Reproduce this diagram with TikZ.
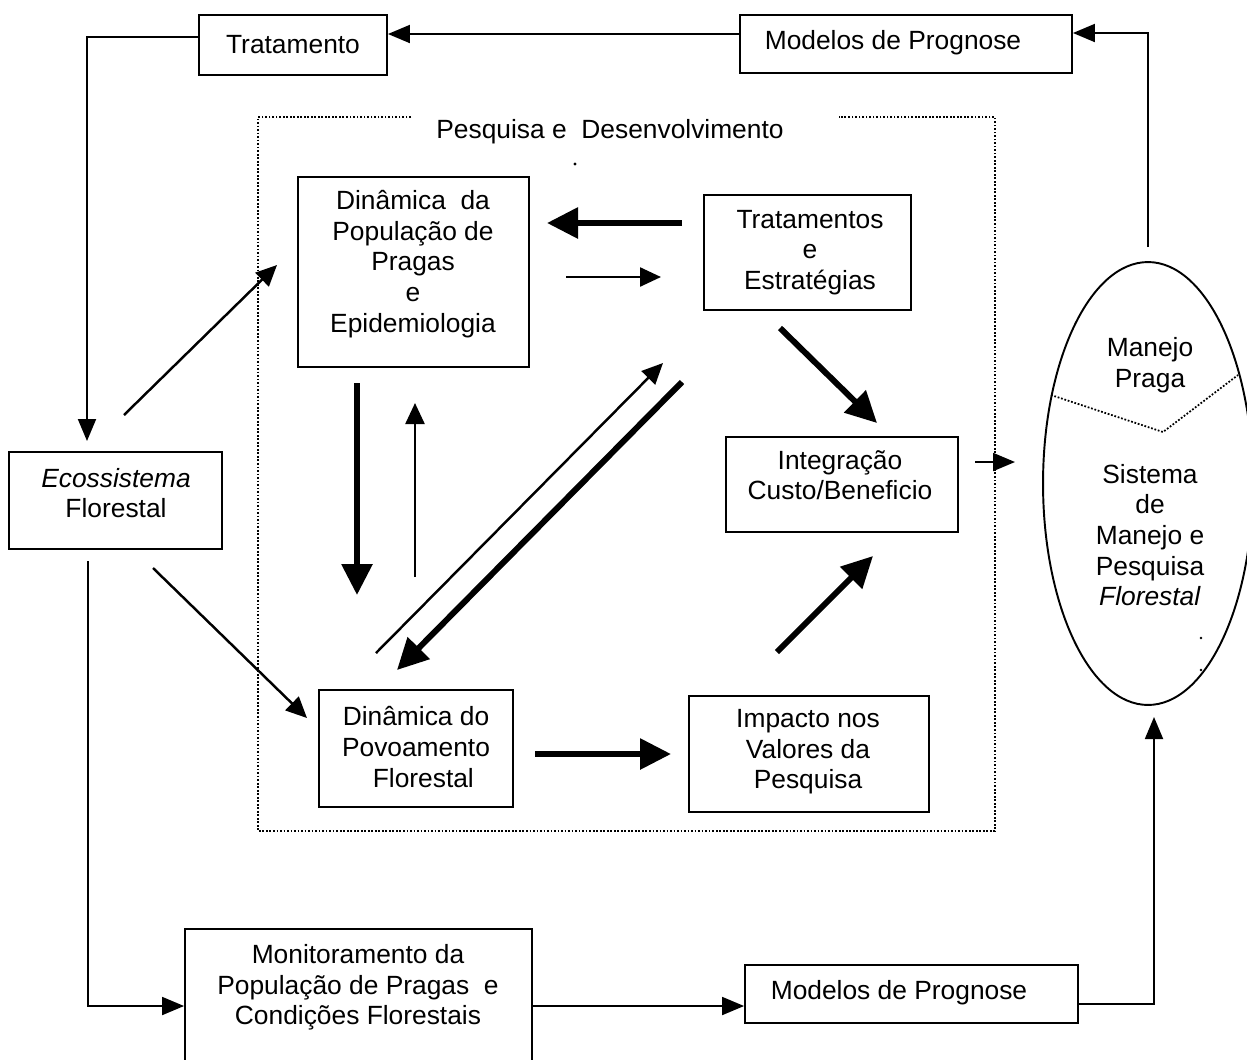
\documentclass[tikz,border=0pt]{standalone}
\usepackage{fontspec}
\setmainfont{Liberation Sans}
\usetikzlibrary{arrows.meta,shapes.geometric}
\begin{document}
\begin{tikzpicture}[x=0.02cm,y=-0.02cm,
  every node/.style={font=\fontsize{15}{17.4}\selectfont},
  box/.style={draw, line width=1.1pt, rectangle, inner sep=0pt},
  txt/.style={align=center, inner sep=0pt},
  thinarr/.style={line width=1.4pt, -{Triangle[length=0.42cm,width=0.38cm]}},
  thickarr/.style={line width=3.4pt, -{Triangle[length=0.62cm,width=0.6cm]}},
  looparr/.style={line width=1.1pt, -{Triangle[length=0.44cm,width=0.36cm]}},
  loopline/.style={line width=1.1pt},
  dotline/.style={line width=1pt, dash pattern=on 1pt off 1pt},
]
\useasboundingbox (0,0) rectangle (1247,1059);

% outer boxes
\node[box, minimum width=3.76cm, minimum height=1.2cm] (trat) at (293,45) {Tratamento};
\node[box, minimum width=6.64cm, minimum height=1.16cm] (modtop) at (906,44) {};
\node[txt] (modtopt) at (893,43) {Modelos de Prognose};
\node[box, minimum width=4.26cm, minimum height=1.94cm] (eco) at (115.5,500.5) {};
\node[txt] (ecot) at (116,493) {\textit{Ecossistema}\\Florestal};
\node[box, minimum width=6.94cm, minimum height=2.72cm] (monit) at (358.5,997) {};
\node[txt] (monitt) at (358,987.5) {Monitoramento da\\População de Pragas\ \ e\\Condições Florestais};
\node[box, minimum width=6.66cm, minimum height=1.16cm] (modbot) at (911.5,994) {};
\node[txt] (modbott) at (899,993) {Modelos de Prognose};
\node[draw, ellipse, line width=1.1pt, minimum width=4.2cm, minimum height=8.86cm, inner sep=0pt] (elip) at (1148,483.5) {};
\node[txt] (elipa) at (1150,365) {Manejo\\Praga};
\node[txt] (elipb) at (1150,535) {Sistema\\de\\Manejo e\\Pesquisa\\\textit{Florestal}};
\draw[dotline] (1051,395) -- (1163,432) -- (1238,375);

% research frame
\draw[dotline] (411,117) -- (258,117) -- (258,831) -- (995,831) -- (995,117) -- (839,117);
\node[txt] (title) at (610,132) {Pesquisa e\ \ Desenvolvimento};

% inner boxes
\node[box, minimum width=4.62cm, minimum height=3.8cm] (dinpop) at (413.5,272) {};
\node[txt] (dinpopt) at (413,264) {Dinâmica\ \ da\\População de\\Pragas\\e\\Epidemiologia};
\node[box, minimum width=4.14cm, minimum height=2.3cm] (trats) at (807.5,252.5) {};
\node[txt] (tratst) at (810,252.5) {Tratamentos\\e\\Estratégias};
\node[box, minimum width=4.64cm, minimum height=1.9cm] (integ) at (842,484.5) {};
\node[txt] (integt) at (840,475) {Integração\\Custo/Beneficio};
\node[box, minimum width=3.88cm, minimum height=2.34cm] (dindo) at (416,748.5) {};
\node[txt] (dindot) at (416,747) {Dinâmica do\\Povoamento\\\ \ Florestal};
\node[box, minimum width=4.8cm, minimum height=2.32cm] (impacto) at (809,754) {};
\node[txt] (impactot) at (808,752) {Impacto nos\\Valores da\\Pesquisa};

% free connector ends
\coordinate (ecoin) at (87,441);
\coordinate (ecoout) at (88,561);
\coordinate (elipin) at (1154,717);
\coordinate (elipout) at (1148,247);
\coordinate (a1) at (682,223);  \coordinate (a2) at (547,223);
\coordinate (b1) at (566,277);  \coordinate (b2) at (661,277);
\coordinate (c1) at (357,383);  \coordinate (c2) at (357,595);
\coordinate (d1) at (415,577);  \coordinate (d2) at (415,403);
\coordinate (e1) at (376,653);  \coordinate (e2) at (663,363);
\coordinate (f1) at (682,382);  \coordinate (f2) at (397,670);
\coordinate (g1) at (780,328);  \coordinate (g2) at (877,423);
\coordinate (h1) at (777,652);  \coordinate (h2) at (873,556);
\coordinate (i1) at (535,754);  \coordinate (i2) at (671,754);
\coordinate (j1) at (124,415);  \coordinate (j2) at (277,265);
\coordinate (k1) at (153,568);  \coordinate (k2) at (307,718);
\coordinate (m1) at (975,462);  \coordinate (m2) at (1015,462);

% outer loop
\draw[looparr] (modtop.west |- 0,34) -- (trat.east |- 0,34);
\draw[looparr] (trat.west |- 0,37) -- (87,37) -- (ecoin);
\draw[looparr] (ecoout) -- (88,1006) -- (monit.west |- 0,1006);
\draw[looparr] (monit.east |- 0,1006) -- (modbot.west |- 0,1006);
\draw[looparr] (modbot.east |- 0,1004) -- (1154,1004) -- (elipin);
\draw[looparr] (elipout) -- (1148,33) -- (modtop.east |- 0,33);

% inner arrows
\draw[thickarr] (a1) -- (a2);
\draw[thinarr] (b1) -- (b2);
\draw[thickarr] (c1) -- (c2);
\draw[thinarr] (d1) -- (d2);
\draw[thinarr] (e1) -- (e2);
\draw[thickarr] (f1) -- (f2);
\draw[thickarr] (g1) -- (g2);
\draw[thickarr] (h1) -- (h2);
\draw[thickarr] (i1) -- (i2);
\draw[thinarr] (j1) -- (j2);
\draw[thinarr] (k1) -- (k2);
\draw[looparr] (m1) -- (m2);

% stray dots
\fill (575,164) circle (1.6);
\fill (1201,638) circle (1.3);
\fill (1201,670) circle (1.3);
\end{tikzpicture}
\end{document}
